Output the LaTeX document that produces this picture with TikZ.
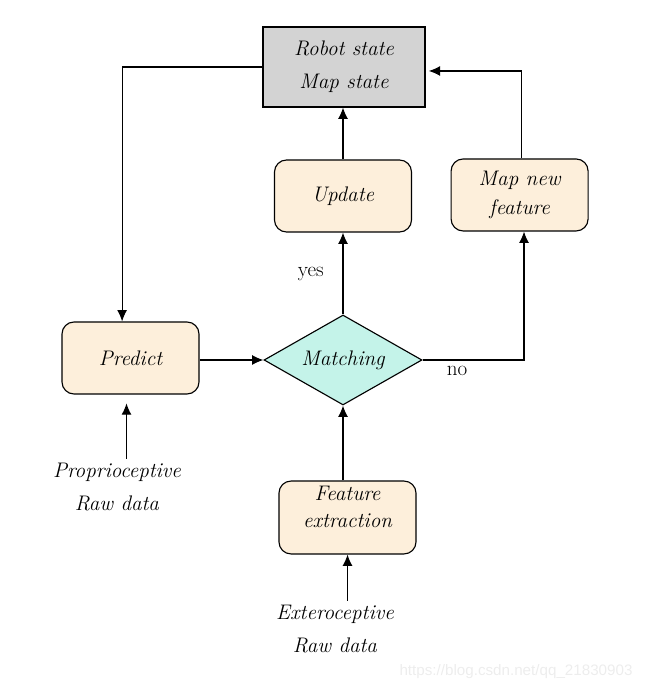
\documentclass[tikz,border=0pt]{standalone}
\usepackage{fontspec}
\newfontfamily\markfont{Liberation Sans}
\usetikzlibrary{arrows.meta, shapes.geometric, positioning}

\definecolor{boxfill}{RGB}{253,239,219}
\definecolor{statefill}{RGB}{211,211,211}
\definecolor{matchfill}{RGB}{196,243,233}

\tikzset{
    procbox/.style={draw, line width=0.8pt, rounded corners=0.3cm, fill=boxfill, minimum width=3.425cm, minimum height=1.8cm, align=center, font=\fontsize{15}{21}\selectfont\itshape},
    rawtext/.style={align=center, font=\fontsize{15}{23.5}\selectfont\itshape},
    flow/.style={line width=0.8pt, -{Latex[length=8pt, width=7pt]}},
    plain/.style={font=\fontsize{15}{17}\selectfont}
}

\begin{document}
\begin{tikzpicture}
\useasboundingbox (0,0) rectangle (16.15,17.275);

\node[draw, line width=0.8pt, fill=statefill, minimum width=4.05cm, minimum height=2cm, align=center, font=\fontsize{15}{23.5}\selectfont\itshape] (robot) at (8.6, 15.6) {Robot state\\Map state};
\node[procbox] (update) at (8.575, 12.375) {Update};
\node[procbox] (mapnew) at (12.99, 12.4) {Map new\\feature};
\node[procbox] (predict) at (3.2625, 8.325) {Predict};
\node[draw, line width=0.8pt, diamond, aspect=1.75, inner sep=0pt, fill=matchfill, minimum width=3.95cm, minimum height=2.25cm, font=\fontsize{15}{17}\selectfont\itshape] (match) at (8.575, 8.275) {Matching};
\node[procbox, minimum height=1.775cm, font=\fontsize{15}{19.5}\selectfont\itshape] (feat) at (8.6875, 4.3375) {Feature\\extraction\\[-4pt]};

\node[rawtext] (propr) at (2.925, 5.0875) {Proprioceptive\\Raw data};
\node[rawtext] (extero) at (8.375, 1.5375) {Exteroceptive\\Raw data};

\draw[flow] (robot.west) -| ([xshift=-0.21cm]predict.north);
\draw[flow] (update.north) -- (update.north |- robot.south);
\draw[flow] ([xshift=0.04cm]mapnew.north) |- ([xshift=0.08cm, yshift=-0.1cm]robot.east);
\draw[flow] (predict.east |- match.west) -- (match.west);
\draw[flow] (match.north) -- (update.south) node[plain, pos=0.5, left=0.35cm] (yes) {yes};
\draw[flow] (match.east) -| ([xshift=0.11cm]mapnew.south);
\draw[flow] (match.south |- feat.north) -- (match.south);
\draw[flow, shorten >=0.22cm] ([xshift=-0.1cm]predict.south |- propr.north) -- ([xshift=-0.1cm]predict.south);
\draw[flow] (feat.south |- extero.north) -- (feat.south);

\node[plain] (no) at (11.425, 8.0) {no};
\node[text=black!7, font=\markfont\fontsize{10.8}{12}\selectfont] (mark) at (12.9, 0.475) {https://blog.csdn.net/qq\_21830903};

\end{tikzpicture}
\end{document}
